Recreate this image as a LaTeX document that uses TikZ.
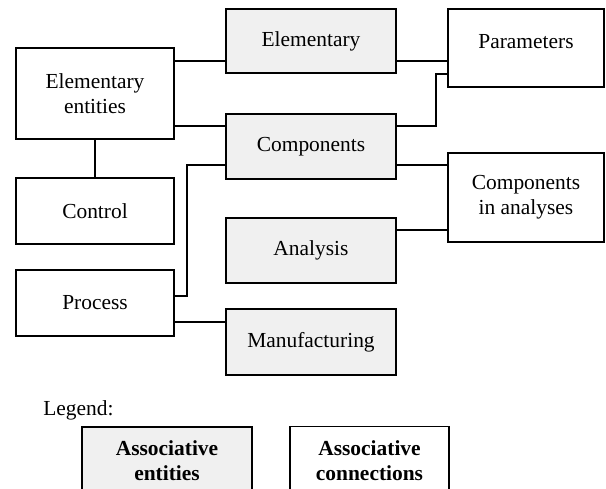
\documentclass[tikz,border=0pt]{standalone}
\usepackage{fontspec}
\setmainfont{Liberation Serif}
\begin{document}
\begin{tikzpicture}[x=0.02cm, y=-0.02cm,
  box/.style={draw=black, line width=1.1pt, rectangle, inner sep=0pt,
    align=center, font=\fontsize{12.2}{14.2}\selectfont},
  plainbox/.style={box, fill=white},
  assocbox/.style={box, fill=gray!12},
  link/.style={draw=black, line width=1.1pt},
  lbl/.style={font=\fontsize{12.2}{14.2}\selectfont, inner sep=0pt}]
  % page area
  \clip (0,0) rectangle (606,488);
  \fill[white] (0,0) rectangle (606,488);

  % left column
  \node[plainbox, minimum width=3.16cm, minimum height=1.82cm] (ee) at (95,93.5) {Elementary\\entities};
  \node[plainbox, minimum width=3.16cm, minimum height=1.32cm] (ctrl) at (95,211) {Control};
  \node[plainbox, minimum width=3.16cm, minimum height=1.32cm] (proc) at (95,303) {Process};

  % middle column
  \node[assocbox, minimum width=3.4cm, minimum height=1.28cm] (elem) at (311,41) {Elementary};
  \node[assocbox, minimum width=3.4cm, minimum height=1.30cm] (comp) at (311,146.5) {Components};
  \node[assocbox, minimum width=3.4cm, minimum height=1.30cm] (anal) at (311,250.5) {Analysis};
  \node[assocbox, minimum width=3.4cm, minimum height=1.32cm] (manu) at (311,342) {Manufacturing};

  % right column
  \node[plainbox, minimum width=3.12cm, minimum height=1.56cm,
    label={[lbl, yshift=0.12cm]center:Parameters}] (param) at (526,48) {};
  \node[plainbox, minimum width=3.12cm, minimum height=1.78cm] (cia) at (526,197.5) {Components\\in analyses};

  % connections
  \draw[link] (ee.east |- 0,61) -- (elem.west |- 0,61);
  \draw[link] (ee.east |- 0,126) -- (comp.west |- 0,126);
  \draw[link] (ee.south) -- (ctrl.north);
  \draw[link] (proc.east |- 0,296) -| (187,165) -- (comp.west |- 0,165);
  \draw[link] (proc.east |- 0,322) -- (manu.west |- 0,322);
  \draw[link] (elem.east |- 0,61) -- (param.west |- 0,61);
  \draw[link] (comp.east |- 0,126) -| (436,74) -- (param.west |- 0,74);
  \draw[link] (comp.east |- 0,165) -- (cia.west |- 0,165);
  \draw[link] (anal.east |- 0,230) -- (cia.west |- 0,230);

  % legend
  \node[lbl, anchor=west] (legend) at (43,410) {Legend:};
  \node[assocbox, minimum width=3.4cm, minimum height=1.36cm, font=\bfseries\fontsize{12.2}{14.2}\selectfont] (legent) at (167,461) {Associative\\entities};
  \node[plainbox, minimum width=3.18cm, minimum height=1.36cm, font=\bfseries\fontsize{12.2}{14.2}\selectfont] (legcon) at (369.5,460.5) {Associative\\connections};
\end{tikzpicture}
\end{document}
